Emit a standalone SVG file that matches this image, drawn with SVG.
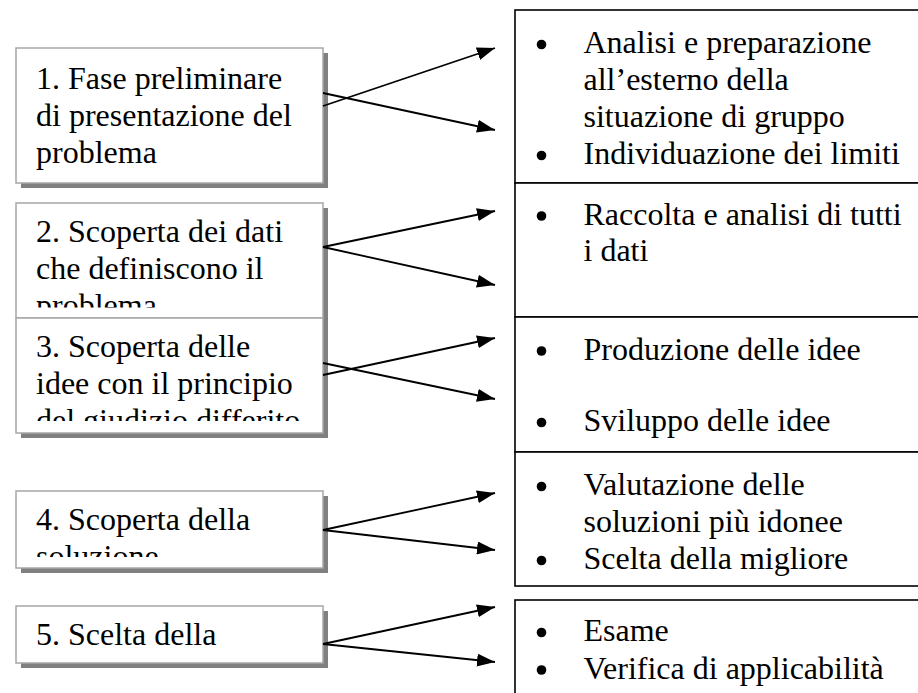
<svg xmlns="http://www.w3.org/2000/svg" width="918" height="693" viewBox="0 0 918 693">
<style>
.t{font-family:'Liberation Serif',Tinos,'Times New Roman',Times,'Noto Serif','DejaVu Serif',serif;font-size:32px;fill:#000}
.lb{fill:#fff;stroke:#a6a6a6;stroke-width:1.5}
.sh{fill:#808080}
.rb{fill:#fff;stroke:#000;stroke-width:1.6}
.c{stroke:#000;stroke-width:1.8;fill:none;marker-end:url(#ah)}
.b{fill:#000}
</style>
<defs>
<marker id="ah" viewBox="0 0 18 13" refX="18" refY="6.5" markerWidth="18" markerHeight="13" markerUnits="userSpaceOnUse" orient="auto">
<path d="M0,0 L18,6.5 L0,13 z" fill="#000"/>
</marker>
<clipPath id="cl2"><rect x="16" y="203" width="307" height="104.5"/></clipPath>
<clipPath id="cl3"><rect x="16" y="318" width="307" height="103"/></clipPath>
<clipPath id="cl4"><rect x="16" y="491" width="307" height="66"/></clipPath>
</defs>
<rect width="918" height="693" fill="#fff"/>

<g id="right-boxes">
<g id="r1">
<rect class="rb" x="515" y="10" width="420" height="173"/>
<circle class="b" cx="541.5" cy="44.5" r="4.8"/>
<circle class="b" cx="541.5" cy="155.5" r="4.8"/>
<text class="t" x="583.5" y="53">Analisi e preparazione</text>
<text class="t" x="583.5" y="90">all’esterno della</text>
<text class="t" x="583.5" y="127">situazione di gruppo</text>
<text class="t" x="583.5" y="164">Individuazione dei limiti</text>
</g>
<g id="r2">
<rect class="rb" x="515" y="183" width="420" height="134"/>
<circle class="b" cx="541.5" cy="216" r="4.8"/>
<text class="t" x="583.5" y="224.5">Raccolta e analisi di tutti</text>
<text class="t" x="583.5" y="261">i dati</text>
</g>
<g id="r3">
<rect class="rb" x="515" y="317" width="420" height="135"/>
<circle class="b" cx="541.5" cy="351" r="4.8"/>
<circle class="b" cx="541.5" cy="422.5" r="4.8"/>
<text class="t" x="583.5" y="359.5">Produzione delle idee</text>
<text class="t" x="583.5" y="431">Sviluppo delle idee</text>
</g>
<g id="r4">
<rect class="rb" x="515" y="452" width="420" height="134"/>
<circle class="b" cx="541.5" cy="486.5" r="4.8"/>
<circle class="b" cx="541.5" cy="560.5" r="4.8"/>
<text class="t" x="583.5" y="495">Valutazione delle</text>
<text class="t" x="583.5" y="532">soluzioni più idonee</text>
<text class="t" x="583.5" y="569">Scelta della migliore</text>
</g>
<g id="r5">
<rect class="rb" x="515" y="600" width="420" height="120"/>
<circle class="b" cx="541.5" cy="632.5" r="4.8"/>
<circle class="b" cx="541.5" cy="670" r="4.8"/>
<text class="t" x="583.5" y="641">Esame</text>
<text class="t" x="583.5" y="678.5">Verifica di applicabilità</text>
</g>
</g>

<g id="left-boxes">
<g id="n1">
<rect class="sh" x="21" y="53" width="307" height="135"/>
<rect class="lb" x="16" y="48" width="307" height="135"/>
<text class="t" x="36" y="89">1. Fase preliminare</text>
<text class="t" x="36" y="126">di presentazione del</text>
<text class="t" x="36" y="163">problema</text>
</g>
<g id="n2">
<rect class="sh" x="21" y="208" width="307" height="115"/>
<rect class="lb" x="16" y="203" width="307" height="115"/>
<g clip-path="url(#cl2)">
<text class="t" x="36" y="242">2. Scoperta dei dati</text>
<text class="t" x="36" y="279">che definiscono il</text>
<text class="t" x="36" y="316">problema</text>
</g>
</g>
<g id="n3">
<rect class="sh" x="21" y="323" width="307" height="115"/>
<rect class="lb" x="16" y="318" width="307" height="115"/>
<g clip-path="url(#cl3)">
<text class="t" x="36" y="357">3. Scoperta delle</text>
<text class="t" x="36" y="394">idee con il principio</text>
<text class="t" x="36" y="431">del giudizio differito</text>
</g>
</g>
<g id="n4">
<rect class="sh" x="21" y="496" width="307" height="77"/>
<rect class="lb" x="16" y="491" width="307" height="77"/>
<g clip-path="url(#cl4)">
<text class="t" x="36" y="530">4. Scoperta della</text>
<text class="t" x="36" y="567">soluzione</text>
</g>
</g>
<g id="n5">
<rect class="sh" x="21" y="611" width="307" height="57"/>
<rect class="lb" x="16" y="606" width="307" height="57"/>
<text class="t" x="36" y="645">5. Scelta della</text>
</g>
</g>

<g id="connectors">
<line class="c" x1="323" y1="106" x2="495" y2="48"/>
<line class="c" x1="323" y1="93" x2="495" y2="130"/>
<line class="c" x1="323" y1="247" x2="495" y2="211"/>
<line class="c" x1="323" y1="247" x2="495" y2="285"/>
<line class="c" x1="323" y1="375" x2="495" y2="338"/>
<line class="c" x1="323" y1="363" x2="495" y2="399"/>
<line class="c" x1="323" y1="530" x2="495" y2="493"/>
<line class="c" x1="323" y1="530" x2="495" y2="550"/>
<line class="c" x1="323" y1="644" x2="495" y2="607"/>
<line class="c" x1="323" y1="644" x2="495" y2="662"/>
</g>
</svg>
